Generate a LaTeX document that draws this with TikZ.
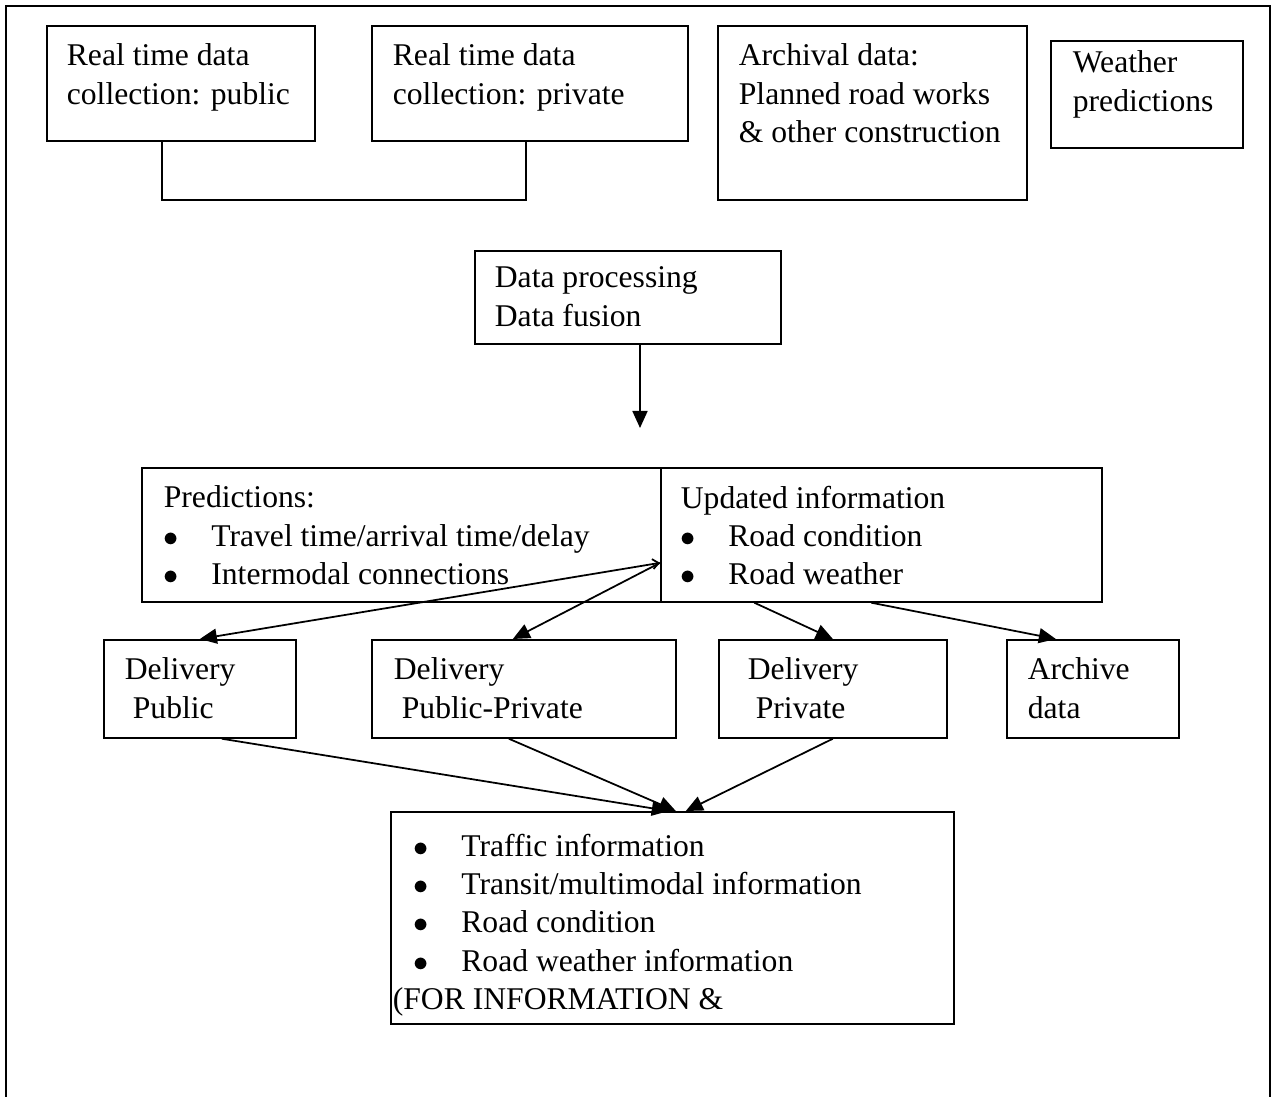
\documentclass[tikz,border=0pt]{standalone}
\usepackage{fontspec}
\setmainfont{Liberation Serif}
\usetikzlibrary{arrows.meta}
\newcommand{\bul}{\makebox[0.95cm][l]{$\bullet$}}

\begin{document}
\begin{tikzpicture}
  [x=0.02cm, y=-0.02cm, line width=1pt,
   box/.style={draw, rectangle, anchor=north west, inner sep=0pt},
   txt/.style={anchor=north west, inner sep=0pt, align=left,
     font=\fontsize{18}{21.8}\selectfont},
   arr/.style={-{Triangle[length=0.34cm,width=0.3cm]}}]
  \useasboundingbox (0,0) rectangle (1276,1097);
  \draw (6,1097) -- (6,6) -- (1270,6) -- (1270,1097);
  % sources
  \node[box, minimum width=5.36cm, minimum height=2.3cm] (colpub) at (46,25) {};
  \node[box, minimum width=6.32cm, minimum height=2.3cm] (colpriv) at (371,25) {};
  \node[box, minimum width=6.18cm, minimum height=3.48cm] (archival) at (717,25) {};
  \node[box, minimum width=3.84cm, minimum height=2.14cm] (weather) at (1050,40) {};
  \node[txt] (colpubtxt) at (66,43) {Real time data\\collection: public};
  \node[txt] (colprivtxt) at (392,43) {Real time data\\collection: private};
  \node[txt] (archivaltxt) at (738,43) {Archival data:\\Planned road works\\\& other construction};
  \node[txt] (weathertxt) at (1072,50) {Weather\\predictions};
  % processing
  \node[box, minimum width=6.12cm, minimum height=1.86cm] (proc) at (474,250) {};
  \node[txt] (proctxt) at (494,266) {Data processing\\Data fusion};
  \coordinate (procend) at (640,428);
  % results
  \node[box, minimum width=10.38cm, minimum height=2.68cm] (pred) at (141,467) {};
  \node[box, minimum width=8.82cm, minimum height=2.68cm] (upd) at (660,467) {};
  \node[txt] (predtxt) at (163,485) {Predictions:\\\bul Travel time/arrival time/delay\\\bul Intermodal connections};
  \node[txt] (updtxt) at (680,485) {Updated information\\\bul Road condition\\\bul Road weather};
  \coordinate (hub) at ([yshift=-0.56cm]upd.west);
  % delivery
  \node[box, minimum width=3.84cm, minimum height=1.96cm] (dpub) at (103,639) {};
  \node[box, minimum width=6.08cm, minimum height=1.96cm] (dpubpriv) at (371,639) {};
  \node[box, minimum width=4.56cm, minimum height=1.96cm] (dpriv) at (718,639) {};
  \node[box, minimum width=3.44cm, minimum height=1.96cm] (darch) at (1006,639) {};
  \node[txt] (dpubtxt) at (124,657) {Delivery\\\hspace*{0.16cm}Public};
  \node[txt] (dpubprivtxt) at (393,657) {Delivery\\\hspace*{0.16cm}Public-Private};
  \node[txt] (dprivtxt) at (747,657) {Delivery\\\hspace*{0.16cm}Private};
  \node[txt] (darchtxt) at (1027,657) {Archive\\data};
  % information
  \node[box, minimum width=11.26cm, minimum height=4.24cm] (info) at (390,811) {};
  \node[txt] (infotxt) at (392,833) {\hspace*{0.42cm}\bul Traffic information\\
    \hspace*{0.42cm}\bul Transit/multimodal information\\
    \hspace*{0.42cm}\bul Road condition\\
    \hspace*{0.42cm}\bul Road weather information\\
    (FOR INFORMATION \&};

  \draw ([xshift=-0.38cm]colpub.south) -- ++(0,58) -| ([xshift=-0.08cm]colpriv.south);
  \begin{scope}[arr]
  \draw (procend |- proc.south) -- (procend);
  \draw[{Straight Barb[length=0.12cm,width=0.2cm]}-{Triangle[length=0.34cm,width=0.3cm]}] (hub) -- (dpub.north);
  \draw (hub) -- ([xshift=-0.22cm]dpubpriv.north);
  \draw ([xshift=-2.54cm]upd.south) -- (dpriv.north);
  \draw ([xshift=-0.2cm]upd.south) -- ([xshift=-0.74cm]darch.north);
  \draw ([xshift=0.44cm]dpub.south) -- ([xshift=-0.07cm]info.north);
  \draw ([xshift=-0.3cm]dpubpriv.south) -- ([xshift=0.07cm]info.north);
  \draw (dpriv.south) -- ([xshift=0.27cm]info.north);
  \end{scope}
\end{tikzpicture}
\end{document}
